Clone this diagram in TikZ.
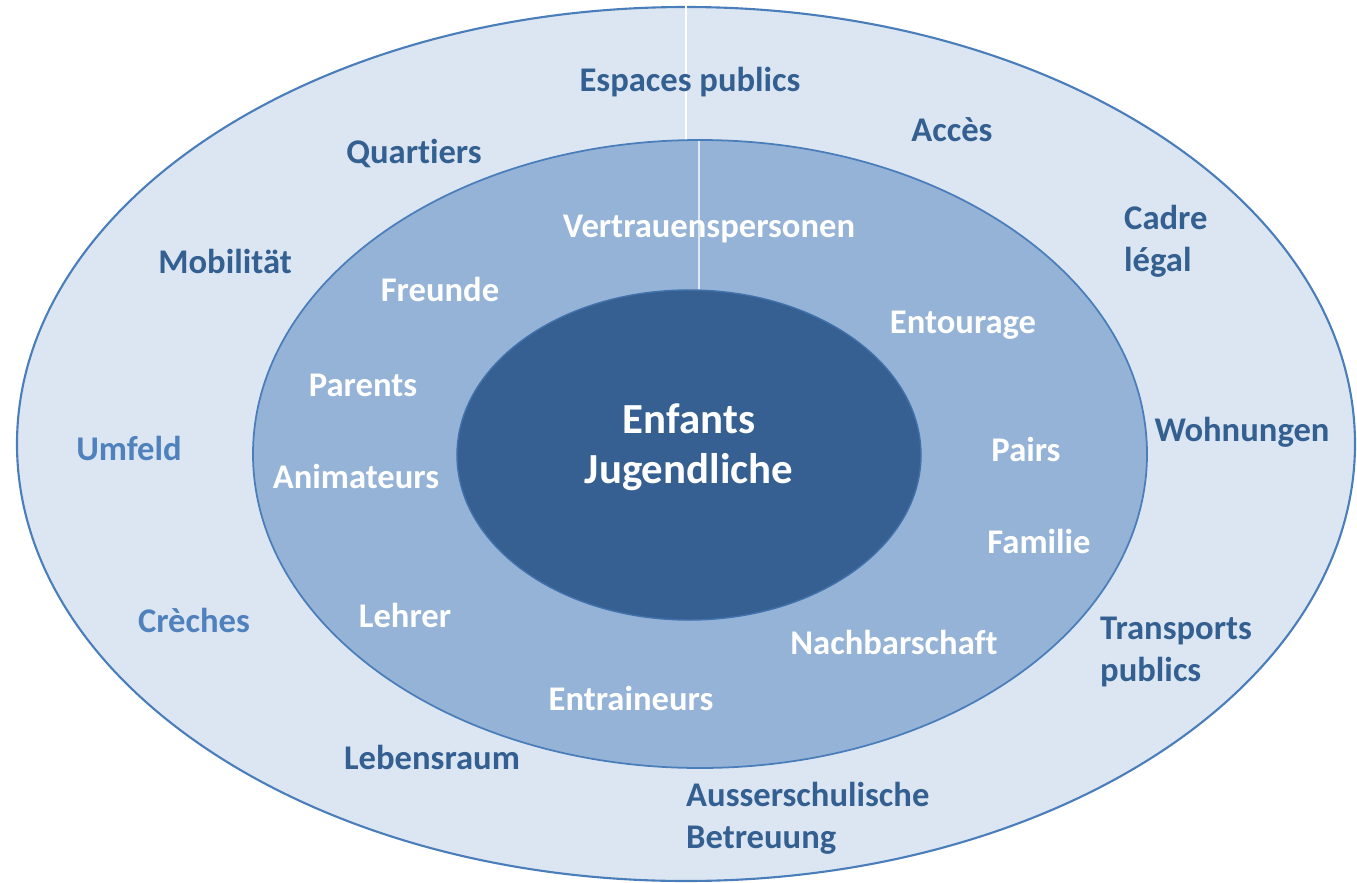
\documentclass[tikz,border=0pt]{standalone}
\usepackage{fontspec}
\setmainfont[Ligatures=NoCommon]{Carlito}
\usepackage{tikz}
\usetikzlibrary{positioning}
\definecolor{outerfill}{HTML}{DCE6F2}
\definecolor{midfill}{HTML}{95B3D7}
\definecolor{corefill}{HTML}{366092}
\definecolor{rimline}{HTML}{4A7EBB}
\definecolor{darktext}{HTML}{335F91}
\definecolor{lighttext}{HTML}{4F81BD}
\tikzset{
    outerlabel/.style={font=\bfseries\fontsize{19.7}{24}\selectfont, text=darktext, align=left},
    paleLabel/.style={font=\bfseries\fontsize{19.7}{24}\selectfont, text=lighttext},
    innerlabel/.style={font=\bfseries\fontsize{19.7}{24}\selectfont, text=white},
    corelabel/.style={font=\bfseries\fontsize{24.4}{28.5}\selectfont, text=white, align=center},
}

\begin{document}
\begin{tikzpicture}[x=0.02cm, y=-0.02cm]
\useasboundingbox (0,0) rectangle (1357,883);
% rings
\draw[rimline, line width=1.2pt, fill=outerfill] (686,444) ellipse (669 and 437);
\draw[white, line width=1.5pt] (686,0) -- (686,141);
\draw[rimline, line width=1.0pt, fill=midfill] (700,454) ellipse (447 and 314);
\draw[white!70!midfill, line width=0.6pt] (699,141) -- (699,290);
\draw[rimline!60!corefill, line width=0.8pt, fill=corefill] (689,455) ellipse (232 and 165);
% outer ring
\node[outerlabel] (espaces) at (690,82) {Espaces publics};
\node[outerlabel] (acces) at (952,130) {Accès};
\node[outerlabel] (quartiers) at (414,154) {Quartiers};
\node[outerlabel, anchor=west] (cadre) at (1118,241) {Cadre\\légal};
\node[outerlabel] (mobilitaet) at (225,261) {Mobilität};
\node[outerlabel] (wohnungen) at (1242,432) {Wohnungen};
\node[paleLabel] (umfeld) at (129,448) {Umfeld};
\node[paleLabel] (creches) at (194,620) {Crèches};
\node[outerlabel, anchor=west] (transports) at (1094,652) {Transports\\publics};
\node[outerlabel] (lebensraum) at (432,757) {Lebensraum};
\node[outerlabel, anchor=west] (ausser) at (680,818) {Ausserschulische\\Betreuung};
% middle ring
\node[innerlabel] (vertrauen) at (709,229) {Vertrauenspersonen};
\node[innerlabel] (freunde) at (440,289) {Freunde};
\node[innerlabel] (entourage) at (963,325) {Entourage};
\node[innerlabel] (parents) at (363,385) {Parents};
\node[innerlabel] (pairs) at (1026,449) {Pairs};
\node[innerlabel] (animateurs) at (356,476) {Animateurs};
\node[innerlabel] (familie) at (1039,541) {Familie};
\node[innerlabel] (lehrer) at (405,615) {Lehrer};
\node[innerlabel] (nachbar) at (894,642) {Nachbarschaft};
\node[innerlabel] (entraineurs) at (631,698) {Entraineurs};
% core
\node[corelabel] (enfants) at (689,447) {Enfants\\Jugendliche};
\end{tikzpicture}
\end{document}
